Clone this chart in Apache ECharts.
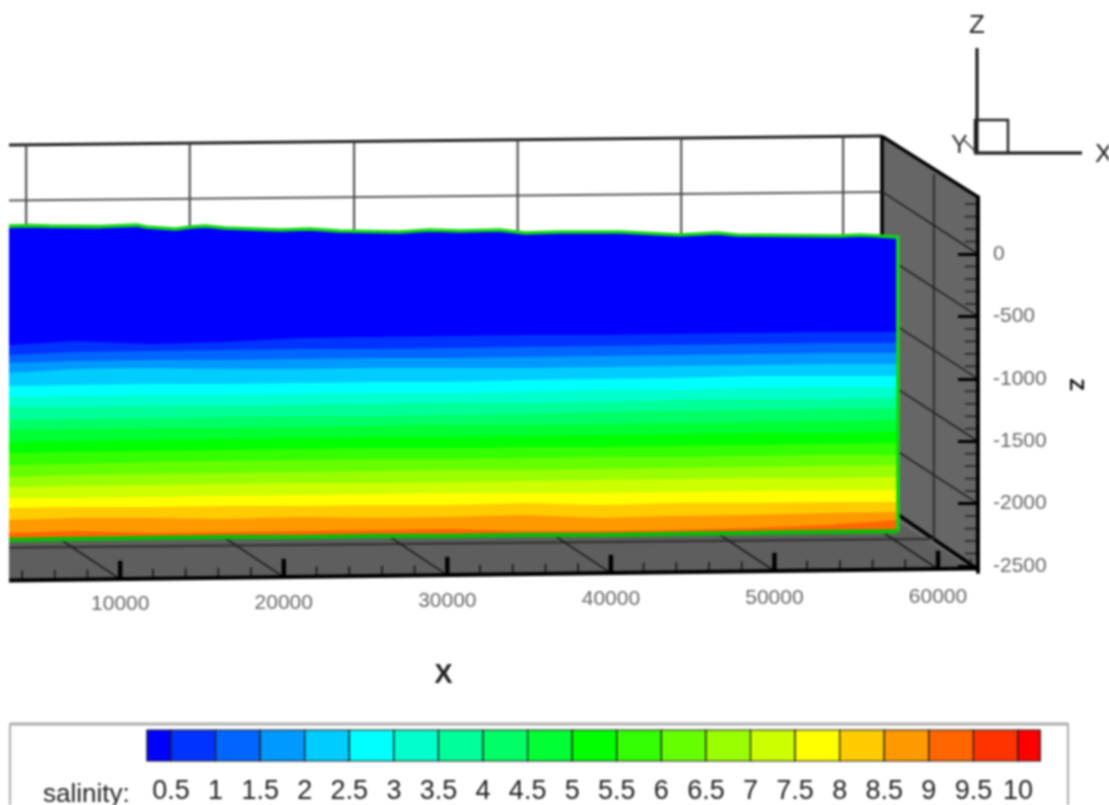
<!DOCTYPE html>
<html>
<head>
<meta charset="utf-8">
<style>
html,body{margin:0;padding:0;background:#fff;overflow:hidden}
#chart{width:1109px;height:805px;filter:blur(0.9px)}
</style>
<script src="https://cdn.jsdelivr.net/npm/echarts@6/dist/echarts.min.js"></script>
</head>
<body>
<div id="chart"></div>
<script>
// ---- values -----------------------------------------------------------
const xTicks = [10000,20000,30000,40000,50000,60000];
const xMinorTicks = [4000,6000,8000,12000,14000,16000,18000,22000,24000,26000,28000,32000,34000,36000,38000,42000,44000,46000,48000,52000,54000,56000,58000,62000];
const zTicks = [0,-500,-1000,-1500,-2000,-2500];
const zMinorTicks = [400,300,200,100,-100,-200,-300,-400,-600,-700,-800,-900,-1100,-1200,-1300,-1400,-1600,-1700,-1800,-1900,-2100,-2200,-2300,-2400];
const backWallX = [4250,14250,24300,34300,44300,54200];

const sampleX = [3200,7250,11850,16400,21000,25600,30200,34750,39350,43950,48500,53100,57550];
const surfaceX = [3200,4500,5700,8800,11000,11600,13400,14300,15200,16400,19800,21600,23400,27100,28900,30800,33200,34750,36900,40600,44200,46500,47700,54000,55200,57550];
const surfaceZ = [224,228,224,220,232,216,200,216,224,208,192,200,184,176,192,184,192,168,176,176,152,168,152,144,152,136];
const bottomZ = [-2292,-2284,-2276,-2268,-2268,-2260,-2260,-2252,-2252,-2244,-2236,-2228,-2224];

const contour05 = [-729,-697,-721,-705,-673,-665,-657,-649,-649,-641,-633,-625,-625];
const contour10 = [-809,-785,-777,-769,-761,-761,-753,-745,-737,-729,-721,-713,-713];
const contour15 = [-873,-857,-849,-849,-841,-833,-833,-825,-817,-809,-801,-793,-793];
const contour20 = [-954,-921,-913,-921,-921,-913,-913,-913,-905,-897,-889,-881,-881];
const contour25 = [-1058,-1050,-1042,-1042,-1034,-1026,-1026,-1010,-1002,-994,-978,-978,-978];
const contour30 = [-1146,-1138,-1130,-1130,-1122,-1114,-1114,-1106,-1090,-1090,-1074,-1066,-1066];
const contour35 = [-1226,-1226,-1218,-1218,-1210,-1202,-1194,-1194,-1186,-1170,-1162,-1162,-1154];
const contour40 = [-1330,-1322,-1314,-1306,-1298,-1298,-1290,-1282,-1266,-1258,-1250,-1242,-1234];
const contour45 = [-1410,-1402,-1394,-1394,-1386,-1378,-1370,-1370,-1362,-1354,-1346,-1338,-1330];
const contour50 = [-1506,-1498,-1490,-1482,-1474,-1466,-1466,-1458,-1450,-1442,-1434,-1434,-1426];
const contour55 = [-1595,-1587,-1579,-1571,-1563,-1555,-1555,-1547,-1547,-1539,-1530,-1522,-1514];
const contour60 = [-1691,-1683,-1667,-1659,-1651,-1643,-1643,-1635,-1627,-1627,-1619,-1611,-1611];
const contour65 = [-1787,-1771,-1763,-1755,-1747,-1739,-1731,-1731,-1723,-1715,-1707,-1699,-1691];
const contour70 = [-1867,-1859,-1851,-1843,-1835,-1835,-1827,-1819,-1811,-1803,-1795,-1795,-1787];
const contour75 = [-1955,-1955,-1947,-1939,-1931,-1923,-1915,-1915,-1915,-1907,-1899,-1891,-1891];
const contour80 = [-2035,-2027,-2027,-2019,-2019,-2011,-2011,-1995,-2011,-1995,-1995,-1987,-1987];
const contour85 = [-2131,-2115,-2115,-2123,-2107,-2115,-2107,-2091,-2115,-2099,-2091,-2075,-2067];
const contour90 = [-2236,-2220,-2236,-2228,-2220,-2212,-2204,-2220,-2220,-2212,-2196,-2172,-2131];

const salinityLabels = [0.5,1,1.5,2,2.5,3,3.5,4,4.5,5,5.5,6,6.5,7,7.5,8,8.5,9,9.5,10];
const salinityEdges = [0.23,0.5,1,1.5,2,2.5,3,3.5,4,4.5,5,5.5,6,6.5,7,7.5,8,8.5,9,9.5,10,10.25];
const salinityColors = ['#0000ff','#0033ff','#0066ff','#0099ff','#00ccff','#00ffff','#00ffcc','#00ff99','#00ff66','#00ff33','#00ff00','#33ff00','#66ff00','#99ff00','#ccff00','#ffff00','#ffcc00','#ff9900','#ff6600','#ff3300','#ff0000'];

// ---- box frame, in axis units -----------------------------------------
const X_MIN = 3200, X_MAX = 62445, X_CORNER = 56573, X_END = 57550, X_WALL = 59750;
const Z_MAX = 457, Z_MIN = -2548;
const BACK_DX = -5750, BACK_DZ = 500;
const frontZ = x => -2616 + (x - X_MIN) * 96 / (X_MAX - X_MIN);
const backTopZ = x => 873 + (x - X_MIN) * 72 / (X_CORNER - X_MIN);
const back0Z = x => 429 + (x - X_MIN) * 68 / (X_CORNER - X_MIN);

const contours = [contour05,contour10,contour15,contour20,contour25,contour30,contour35,contour40,contour45,contour50,contour55,contour60,contour65,contour70,contour75,contour80,contour85,contour90];
const rows = [surfaceZ].concat(contours);
const boundary = i => (i === 0 ? surfaceX : sampleX).map((x,k) => [x, rows[i][k]]);

const shapes = [
  {pts:[[X_CORNER,945],[X_MAX,Z_MAX],[X_MAX,Z_MIN],[X_CORNER,-2051]], fill:'#666666'},
  {pts:[[X_MIN,-2000],[X_CORNER,-2051],[X_MAX,Z_MIN],[X_MAX,frontZ(X_MAX)],[X_MIN,frontZ(X_MIN)]], fill:'#5e5e5e'}
];
const lines = [];
const seg = (pts,width,color) => lines.push({pts,width,color});
seg([[X_MIN,backTopZ(X_MIN)],[X_CORNER,945]],3,'#222222');
seg([[X_MIN,back0Z(X_MIN)],[X_CORNER,497]],1.8,'#555555');
backWallX.forEach(x => seg([[x,backTopZ(x)],[x,0]],2,'#444444'));
seg([[X_CORNER,945],[X_CORNER,100]],3.6,'#000000');
seg([[X_CORNER,945],[X_MAX,Z_MAX]],3.4,'#000000');
seg([[X_WALL,640],[X_WALL,-2290]],2.2,'#333333');
zTicks.slice(0,5).forEach(z => seg([[X_CORNER,z+BACK_DZ],[X_MAX,z]],1.6,'#222222'));
seg([[X_CORNER,-2000],[X_MAX-300,-2500]],3.6,'#000000');
seg([[X_MIN,-2352],[X_WALL,-2283]],2.2,'#333333');
xTicks.forEach(x => seg([[x+BACK_DX,frontZ(x)+BACK_DZ],[x,frontZ(x)]],1.6,'#1a1a1a'));
zMinorTicks.forEach(z => seg([[X_MAX-800,z],[X_MAX,z]],1.7,'#2a2a2a'));
xMinorTicks.forEach(x => seg([[x,frontZ(x)],[x,frontZ(x)+80]],1.7,'#1a1a1a'));
xTicks.forEach(x => seg([[x,frontZ(x)],[x,frontZ(x)+146]],4.4,'#000000'));
seg([[X_MIN,frontZ(X_MIN)],[X_MAX,frontZ(X_MAX)]],4,'#000000');

const cells = salinityColors.map((c,i) => [salinityEdges[i],salinityEdges[i+1]]);
const labelDrop = [8,7,5,3,2,1];
const dropRich = {};
labelDrop.forEach((d,i) => { dropRich['d'+i] = {padding:[d,0,0,0],fontSize:21,color:'#666666',fontFamily:'Liberation Sans'}; });
const idx = n => Array.from({length:n},(_,i)=>i);

const chart = echarts.init(document.getElementById('chart'),null,{renderer:'canvas'});
chart.setOption({
  animation:false,
  backgroundColor:'#ffffff',
  textStyle:{fontFamily:'Liberation Sans'},
  grid:[
    {left:9,width:969,top:197,height:375},
    {left:126.4,width:936.2,top:730,height:40}
  ],
  xAxis:[
    {type:'value',gridIndex:0,min:X_MIN,max:X_MAX,name:'X',nameLocation:'middle',nameGap:90,
     nameTextStyle:{fontSize:27,fontWeight:'bold',color:'#222222',fontFamily:'Liberation Sans',padding:[0,100,0,0]},
     splitLine:{show:false},axisLine:{show:false},axisTick:{show:false},
     axisLabel:{customValues:xTicks,margin:14,hideOverlap:false,rich:dropRich,
       formatter:v => '{d'+xTicks.indexOf(v)+'|'+v+'}'}},
    {type:'value',gridIndex:1,min:0,max:10.5,interval:0.5,
     splitLine:{show:false},axisLine:{show:false},axisTick:{show:false},
     axisLabel:{customValues:salinityLabels,margin:17,fontSize:27,color:'#222222',hideOverlap:false,
       fontFamily:'Liberation Sans',formatter:v => String(v)}}
  ],
  yAxis:[
    {type:'value',gridIndex:0,position:'right',min:Z_MIN,max:Z_MAX,z:6,name:'Z',nameLocation:'middle',nameRotate:-90,nameGap:88,
     nameTextStyle:{fontSize:20,fontWeight:'bold',color:'#111111',fontFamily:'Liberation Sans'},
     splitLine:{show:false},
     axisLine:{show:true,lineStyle:{color:'#000000',width:4}},
     axisTick:{show:true,inside:true,length:20,customValues:zTicks,lineStyle:{color:'#000000',width:3}},
     axisLabel:{customValues:zTicks,margin:15,fontSize:21,color:'#666666',fontFamily:'Liberation Sans',hideOverlap:false,formatter:v => String(v)}},
    {type:'value',gridIndex:1,min:0,max:1,show:false}
  ],
  series:[
    {type:'custom',name:'box faces',silent:true,z:1,xAxisIndex:0,yAxisIndex:0,data:idx(shapes.length),
     renderItem:(p,api)=>{const s=shapes[api.value(0)];
       return {type:'polygon',shape:{points:s.pts.map(q=>api.coord(q))},style:{fill:s.fill}};}},
    {type:'custom',name:'box lines',silent:true,z:2,xAxisIndex:0,yAxisIndex:0,data:idx(lines.length),
     renderItem:(p,api)=>{const s=lines[api.value(0)];
       return {type:'polyline',shape:{points:s.pts.map(q=>api.coord(q))},style:{fill:null,stroke:s.color,lineWidth:s.width}};}},
    {type:'custom',name:'salinity contours',silent:true,z:3,xAxisIndex:0,yAxisIndex:0,data:idx(rows.length),
     renderItem:(p,api)=>{const i=api.value(0);
       const lower=sampleX.map((x,k)=>[x,bottomZ[k]]).reverse();
       return {type:'polygon',shape:{points:boundary(i).concat(lower).map(q=>api.coord(q))},style:{fill:salinityColors[i]}};}},
    {type:'line',name:'surface',silent:true,z:4,xAxisIndex:0,yAxisIndex:0,symbol:'none',clip:false,
     data:surfaceX.map((x,k)=>[x,surfaceZ[k]]).concat([[X_END,bottomZ[12]]]),
     lineStyle:{color:'#12d812',width:3.6}},
    {type:'line',name:'bed',silent:true,z:4,xAxisIndex:0,yAxisIndex:0,symbol:'none',clip:false,
     data:sampleX.map((x,k)=>[x,bottomZ[k]]),
     lineStyle:{color:'#0cba0c',width:4.4}},
    {type:'custom',name:'salinity legend',silent:true,z:3,xAxisIndex:1,yAxisIndex:1,data:cells,
     encode:{x:[0,1]},
     renderItem:(p,api)=>{const a=api.coord([api.value(0),1]),b=api.coord([api.value(1),0]);
       return {type:'rect',shape:{x:a[0],y:a[1],width:b[0]-a[0],height:b[1]-a[1]},
         style:{fill:salinityColors[p.dataIndex],stroke:'#1c1c1c',lineWidth:1.2}};}}
  ],
  graphic:[
    {type:'rect',z:1,silent:true,shape:{x:10,y:724,width:1058,height:100},style:{fill:null,stroke:'#8c8c8c',lineWidth:1.4}},
    {type:'line',z:1,silent:true,shape:{x1:10,y1:724,x2:1068,y2:724},style:{stroke:'#aeaeae',lineWidth:3}},
    {type:'text',z:5,left:43,top:782,style:{text:'salinity:',font:'26px "Liberation Sans"',fill:'#222222'}},
    {type:'line',z:5,silent:true,shape:{x1:977,y1:48,x2:977,y2:154},style:{stroke:'#111111',lineWidth:3}},
    {type:'line',z:5,silent:true,shape:{x1:975,y1:153,x2:1082,y2:153},style:{stroke:'#111111',lineWidth:3}},
    {type:'rect',z:5,silent:true,shape:{x:975,y:120,width:33,height:33},style:{fill:null,stroke:'#222222',lineWidth:2.4}},
    {type:'line',z:5,silent:true,shape:{x1:964,y1:140,x2:977,y2:153},style:{stroke:'#333333',lineWidth:1.5}},
    {type:'text',z:5,left:969,top:13,style:{text:'Z',font:'26px "Liberation Sans"',fill:'#222222'}},
    {type:'text',z:5,left:951,top:134,style:{text:'Y',font:'25px "Liberation Sans"',fill:'#333333'}},
    {type:'text',z:5,left:1095,top:142,style:{text:'X',font:'26px "Liberation Sans"',fill:'#222222'}}
  ]
});
</script>
</body>
</html>
